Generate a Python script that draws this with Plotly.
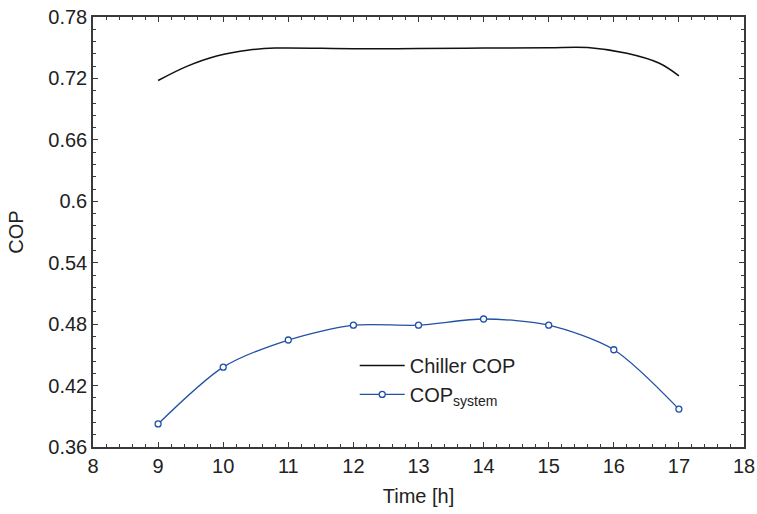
import plotly.graph_objects as go

# Data
hours_system = [9, 10, 11, 12, 13, 14, 15, 16, 17]
cop_system = [0.3825, 0.438, 0.4645, 0.479, 0.479, 0.485, 0.479, 0.455, 0.397]

hours_chiller = [9, 9.45, 9.9, 10.4, 10.8, 12, 13, 14, 15, 15.6, 16.2, 16.7, 17]
cop_chiller = [0.7180, 0.7320, 0.7419, 0.7478, 0.7496, 0.7490, 0.7492, 0.7496, 0.7500,
               0.7502, 0.7445, 0.7348, 0.7225]

y_ticks = [0.36, 0.42, 0.48, 0.54, 0.60, 0.66, 0.72, 0.78]
y_tick_labels = ["0.36", "0.42", "0.48", "0.54", "0.6", "0.66", "0.72", "0.78"]
x_ticks = [8, 9, 10, 11, 12, 13, 14, 15, 16, 17, 18]

FONT = "Liberation Sans, Arial, Helvetica, sans-serif"
BLUE = "#2150a6"
AXIS = "#3a3a3a"
TXT = "#222222"

fig = go.Figure()
fig.add_trace(go.Scatter(
    x=hours_chiller, y=cop_chiller, mode="lines", name="Chiller COP",
    line=dict(color="#111111", width=1.5, shape="spline", smoothing=1.0),
))
fig.add_trace(go.Scatter(
    x=hours_system, y=cop_system, mode="lines+markers", name="COP<sub>system</sub>",
    line=dict(color=BLUE, width=1.3, shape="spline", smoothing=0.8),
    marker=dict(symbol="circle", size=6, color="white", line=dict(color=BLUE, width=1.3)),
))

axis_common = dict(
    showgrid=False, zeroline=False, showline=True, linecolor=AXIS, linewidth=1.5,
    mirror="allticks", ticks="inside", ticklen=5, tickwidth=1.2, tickcolor=AXIS,
    tickfont=dict(family=FONT, size=20, color=TXT),
    title_font=dict(family=FONT, size=20, color=TXT),
    automargin=False,
)

fig.update_xaxes(
    range=[8, 18], tickvals=x_ticks, title_text="Time [h]", title_standoff=13,
    minor=dict(ticks="inside", ticklen=3, dtick=0.2, tickcolor=AXIS, tickwidth=1),
    **axis_common,
)
fig.update_yaxes(
    range=[0.36, 0.78], tickvals=y_ticks, ticktext=y_tick_labels, title_text="COP",
    title_standoff=19,
    minor=dict(ticks="inside", ticklen=3, dtick=0.012, tick0=0.36, tickcolor=AXIS, tickwidth=1),
    **axis_common,
)

fig.update_layout(
    width=757, height=514,
    margin=dict(l=93, r=13, t=17, b=67),
    plot_bgcolor="white", paper_bgcolor="white",
    font=dict(family=FONT, size=20, color=TXT),
    legend=dict(
        x=0.402, y=0.235, xanchor="left", yanchor="top",
        bgcolor="rgba(0,0,0,0)", font=dict(family=FONT, size=20, color=TXT),
        itemwidth=45,
    ),
    showlegend=True,
)

fig.write_html("out.html", config={"displayModeBar": False},
               post_script="document.body.style.margin='0px';")
